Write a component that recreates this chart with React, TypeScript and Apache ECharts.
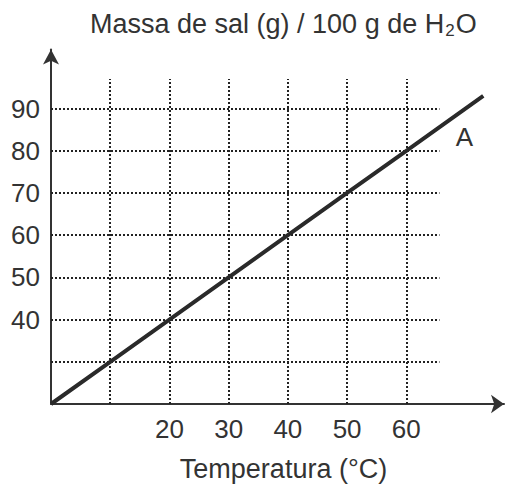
import React, { useEffect, useRef } from "react";
import * as echarts from "echarts";

const lineData: [number, number][] = [
  [0, 20], [10, 30], [20, 40], [30, 50], [40, 60], [50, 70], [60, 80], [73, 93],
];
const xTickLabels = [20, 30, 40, 50, 60];
const yTickLabels = [40, 50, 60, 70, 80, 90];
const gridX = [10, 20, 30, 40, 50, 60];
const gridY = [30, 40, 50, 60, 70, 80, 90];
const gridTop = 97;
const gridRight = 65.6;
const labelA = { text: "A", coord: [69.8, 83.3] };

const FONT = "'Liberation Sans', Arial, Helvetica, sans-serif";
const INK = "#333333";

export default function App() {
  const ref = useRef<HTMLDivElement>(null);
  useEffect(() => {
    if (!ref.current) return;
    const chart = echarts.init(ref.current, undefined, { renderer: "svg" });
    const markLines: any[] = [];
    gridX.forEach((x) => markLines.push([{ coord: [x, 20] }, { coord: [x, gridTop] }]));
    gridY.forEach((y) => markLines.push([{ coord: [0, y] }, { coord: [gridRight, y] }]));
    chart.setOption({
      animation: false,
      backgroundColor: "#ffffff",
      title: {
        text: "Massa de sal (g) / 100 g de H{sub|2}O",
        left: 90,
        top: 8.5,
        padding: 0,
        textStyle: {
          fontFamily: FONT,
          fontSize: 27,
          fontWeight: "normal",
          color: INK,
          rich: {
            sub: { fontFamily: FONT, fontSize: 17, color: INK, verticalAlign: "bottom", padding: [13, 1, 0, 1] },
          },
        },
      },
      grid: { left: 51, right: 7, top: 49.5, bottom: 78, containLabel: false },
      xAxis: {
        type: "value",
        min: 0,
        max: 76.5,
        interval: 10,
        name: "Temperatura (°C)",
        nameLocation: "middle",
        nameGap: 51,
        nameTextStyle: { fontFamily: FONT, fontSize: 27, color: INK, padding: [0, 0, 0, 12] },
        axisLine: {
          show: true,
          symbol: ["none", "arrow"],
          symbolSize: [14, 13],
          lineStyle: { color: INK, width: 2 },
        },
        axisTick: { show: false },
        splitLine: { show: false },
        axisLabel: {
          fontFamily: FONT,
          fontSize: 26,
          color: INK,
          margin: 12,
          formatter: (v: number) => (xTickLabels.includes(v) ? String(v) : ""),
        },
      },
      yAxis: {
        type: "value",
        min: 20,
        max: 104,
        interval: 10,
        axisLine: {
          show: true,
          symbol: ["none", "arrow"],
          symbolSize: [12, 15],
          lineStyle: { color: INK, width: 2 },
        },
        axisTick: { show: false },
        splitLine: { show: false },
        axisLabel: {
          fontFamily: FONT,
          fontSize: 26,
          color: INK,
          margin: 11,
          formatter: (v: number) => (yTickLabels.includes(v) ? String(v) : ""),
        },
      },
      series: [
        {
          type: "line",
          data: [],
          z: 1,
          silent: true,
          markLine: {
            silent: true,
            symbol: ["none", "none"],
            label: { show: false },
            lineStyle: { color: "#222222", width: 2, type: [2, 2] },
            emphasis: { disabled: true },
            data: markLines,
          },
        },
        {
          type: "line",
          data: lineData,
          z: 5,
          showSymbol: false,
          symbol: "none",
          lineStyle: { color: "#2a2a2a", width: 4 },
          markPoint: {
            symbol: "circle",
            symbolSize: 0,
            label: { show: true, formatter: labelA.text, fontFamily: FONT, fontSize: 26, color: INK },
            data: [{ coord: labelA.coord }],
          },
        },
      ],
    });
    return () => chart.dispose();
  }, []);
  return (
    <div
      ref={ref}
      style={{ position: "absolute", left: 0, top: 0, width: 511, height: 487 }}
    />
  );
}
